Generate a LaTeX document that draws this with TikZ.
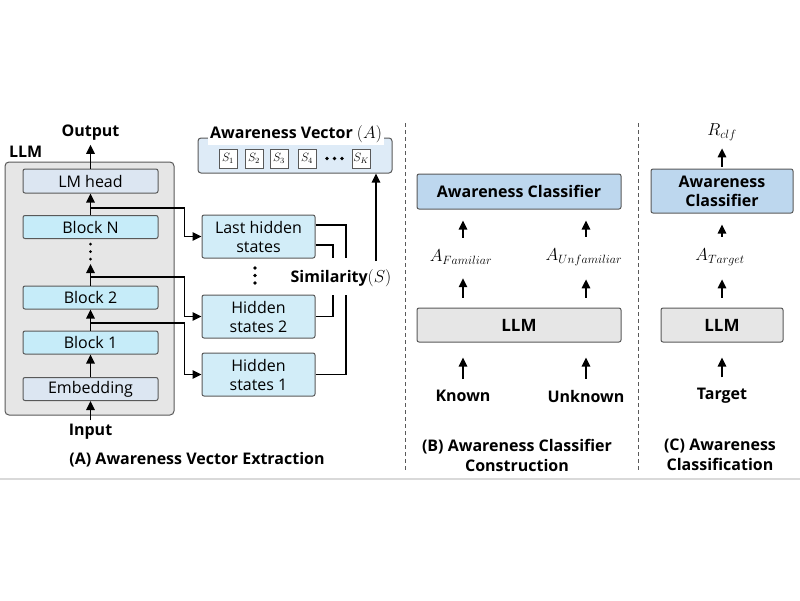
\documentclass[tikz,border=0pt]{standalone}
\usepackage{amsmath}
\usepackage{amssymb}
\usepackage{fontspec}
\setmainfont{Open Sans}
\usetikzlibrary{shapes, arrows, arrows.meta, positioning, calc}

\definecolor{bordgris}{HTML}{595959}
\definecolor{llmfond}{HTML}{E6E6E6}
\definecolor{tetefond}{HTML}{DCE6F2}
\definecolor{blocfond}{HTML}{C6ECF9}
\definecolor{cachefond}{HTML}{D2EDF8}
\definecolor{vecfond}{HTML}{DEEBF7}
\definecolor{clffond}{HTML}{BDD7EE}
\definecolor{lignegris}{HTML}{D9D9D9}

\tikzset{
  boite/.style={draw=bordgris, line width=1pt, rounded corners=2pt, inner sep=0pt, align=center, font=\fontsize{16}{19}\selectfont},
  couche/.style={boite, minimum width=135pt, minimum height=23pt},
  cache/.style={boite, fill=cachefond, minimum width=113pt, minimum height=43pt},
  carre/.style={draw=bordgris, line width=0.8pt, fill=white, minimum width=18pt, minimum height=19pt, inner sep=0pt, font=\fontsize{12}{12}\selectfont},
  gras/.style={font=\fontsize{16}{19}\selectfont\bfseries, align=center},
  legende/.style={font=\fontsize{16}{20}\selectfont\bfseries, align=center},
  maths/.style={font=\fontsize{18}{19}\selectfont},
  fleche/.style={-{Triangle[length=9pt, width=8.5pt]}, line width=1.6pt}
}

\begin{document}
\begin{tikzpicture}[x=1pt, y=-1pt, line width=1.4pt]
  \useasboundingbox (0,0) rectangle (800,600);

  % (A) cadre du LLM et ses couches
  \node[boite, fill=llmfond, minimum width=169pt, minimum height=253pt, rounded corners=4pt] (llm) at (89.5,288.5) {};
  \node[gras, anchor=west] (llmtxt) at (5,152) {LLM};
  \node[couche, fill=tetefond, minimum height=24pt] (tete) at (90.5,181) {LM head};
  \node[couche, fill=blocfond] (blocN) at (90.5,227) {Block N};
  \node[couche, fill=blocfond] (bloc2) at (90.5,297.5) {Block 2};
  \node[couche, fill=blocfond] (bloc1) at (90.5,342.5) {Block 1};
  \node[couche, fill=tetefond] (embed) at (90.5,389) {Embedding};
  \node[gras] (sortie) at (90.5,133) {Output};
  \node[gras] (entree) at (90.5,432) {Input};
  \foreach \y in {244,251.5,259}
    \fill (90.5,\y) circle (1.5pt);

  % flux vertical dans le LLM
  \draw[fleche] (entree) -- (embed);
  \draw[fleche] (embed) -- (bloc1);
  \draw[fleche] (bloc1) -- (bloc2);
  \coordinate (finB2) at (90.5,264);
  \draw[fleche] (bloc2.north) -- (finB2);
  \draw[fleche] (blocN) -- (tete);
  \draw[fleche] (tete) -- (sortie);

  % etats caches
  \node[cache] (dernier) at (258.5,236.5) {Last hidden\\states};
  \node[cache] (cache2) at (258.5,316.5) {Hidden\\states 2};
  \node[cache] (cache1) at (258.5,374.5) {Hidden\\states 1};
  \foreach \y in {268,275.5,283}
    \fill (255,\y) circle (1.8pt);

  % derivations vers les etats caches
  \coordinate (tapN) at (90.5,208);
  \coordinate (tap2) at (90.5,277);
  \coordinate (tap1) at (90.5,323);
  \draw[fleche] (tapN) -| ([xshift=-17pt]dernier.west) -- (dernier.west);
  \draw[fleche] (tap2) -| ([xshift=-17pt]cache2.west) -- (cache2.west);
  \draw[fleche] (tap1) -| ([xshift=-17pt]cache1.west) -- (cache1.west);

  % similarite
  \node[font=\fontsize{16}{19}\selectfont] (simil) at (341,278) {\textbf{Similarity}$(S)$};
  \coordinate (simA) at (346,258);
  \coordinate (simB) at (333,258);
  \coordinate (simC) at (333,295);
  \coordinate (simD) at (346,295);
  \draw[line width=1.3pt] ([yshift=11.5pt]dernier.east) -| (simA);
  \draw[line width=1.3pt] ([yshift=-8.5pt]dernier.east) -| (simB);
  \draw[line width=1.3pt] (cache2.east) -| (simC);
  \draw[line width=1.3pt] (cache1.east) -| (simD);

  % vecteur de conscience
  \node[boite, fill=vecfond, minimum width=194pt, minimum height=35pt, rounded corners=3pt] (vec) at (295,155.5) {};
  \node[fill=white, inner sep=2pt, font=\fontsize{16}{19}\selectfont] (vectitre) at (296,134) {\textbf{Awareness Vector} $(A)$};
  \foreach \nom/\x/\idx in {s1/228/1, s2/254/2, s3/279/3, s4/307/4}
    \node[carre] (\nom) at (\x,158.5) {$S_{\idx}$};
  \node[carre] (sK) at (361,158.5) {$S_{K}$};
  \foreach \x in {327,334.5,342}
    \fill (\x,158.5) circle (1.8pt);
  \coordinate (simE) at (376,261);
  \draw[fleche] (simE) -- (simE |- vec.south);

  % separateurs
  \draw[bordgris, line width=1pt, dash pattern=on 4pt off 3pt] (405,123) -- (405,472);
  \draw[bordgris, line width=1pt, dash pattern=on 4pt off 3pt] (638,123) -- (638,472);

  % (B) construction du classifieur
  \node[boite, fill=clffond, minimum width=204pt, minimum height=35pt, font=\fontsize{16}{19}\selectfont\bfseries] (clfB) at (519,191.5) {Awareness Classifier};
  \node[maths] (afam) at (461,257) {$A_{Familiar}$};
  \node[maths] (aunf) at (584,257) {$A_{Unfamiliar}$};
  \node[boite, fill=llmfond, minimum width=204pt, minimum height=34pt, font=\fontsize{17}{19}\selectfont\bfseries] (llmB) at (519,325) {LLM};
  \node[gras] (connu) at (463,396) {Known};
  \node[gras] (inconnu) at (586,396) {Unknown};
  \draw[fleche, shorten <=7pt, shorten >=15pt] (connu.north) -- (connu.north |- llmB.south);
  \draw[fleche, shorten <=7pt, shorten >=15pt] (inconnu.north) -- (inconnu.north |- llmB.south);
  \draw[fleche, shorten <=10pt, shorten >=10pt] (connu |- llmB.north) -- (connu |- afam.south);
  \draw[fleche, shorten <=10pt, shorten >=10pt] (inconnu |- llmB.north) -- (inconnu |- aunf.south);
  \draw[fleche, shorten <=8pt, shorten >=11pt] (connu |- afam.north) -- (connu |- clfB.south);
  \draw[fleche, shorten <=8pt, shorten >=11pt] (inconnu |- aunf.north) -- (inconnu |- clfB.south);

  % (C) classification
  \node[maths] (rclf) at (722,132) {$R_{clf}$};
  \node[boite, fill=clffond, minimum width=142pt, minimum height=44pt, font=\fontsize{16}{19}\selectfont\bfseries] (clfC) at (722,191) {Awareness\\Classifier};
  \node[maths] (acible) at (720,257) {$A_{Target}$};
  \node[boite, fill=llmfond, minimum width=122pt, minimum height=34pt, font=\fontsize{17}{19}\selectfont\bfseries] (llmC) at (722,325) {LLM};
  \node[gras] (cible) at (722,396) {Target};
  \draw[fleche, shorten <=7pt, shorten >=15pt] (cible.north) -- (cible.north |- llmC.south);
  \draw[fleche, shorten <=10pt, shorten >=10pt] (llmC.north) -- (llmC.north |- acible.south);
  \draw[fleche, shorten <=8pt, shorten >=11pt] (clfC |- acible.north) -- (clfC.south);
  \draw[fleche, shorten <=2pt, shorten >=4pt] (clfC.north) -- (clfC.north |- rclf.south);

  % legendes
  \node[legende] (legA) at (197,460) {(A) Awareness Vector Extraction};
  \node[legende] (legB) at (517,455) {(B) Awareness Classifier\\Construction};
  \node[legende] (legC) at (720,455) {(C) Awareness\\Classification};

  % trait du bas
  \draw[lignegris, line width=1.5pt] (0,479) -- (800,479);
\end{tikzpicture}
\end{document}
